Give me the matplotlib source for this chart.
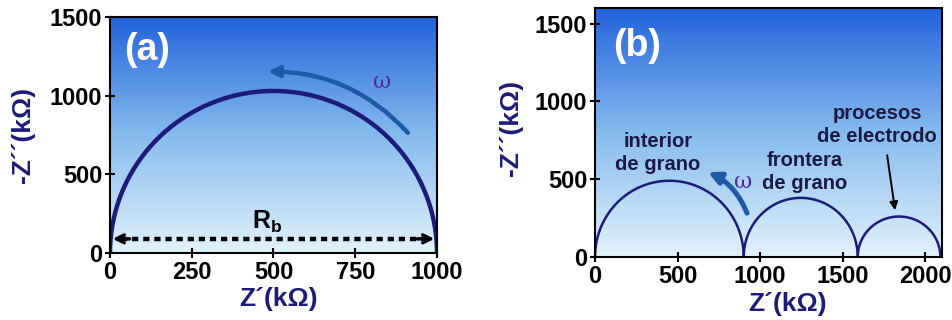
import numpy as np
import matplotlib
matplotlib.use("Agg")
import matplotlib.pyplot as plt
from matplotlib.patches import FancyArrowPatch
from matplotlib.colors import LinearSegmentedColormap

plt.rcParams['font.family'] = ['Liberation Sans', 'DejaVu Sans']
plt.rcParams['font.weight'] = 'bold'
plt.rcParams['mathtext.fontset'] = 'custom'
plt.rcParams['mathtext.bf'] = 'Liberation Sans:bold'
plt.rcParams['mathtext.rm'] = 'Liberation Sans:bold'

# ---- data ----
# panel (a): single semicircle
a_start = [0]
a_end = [1000]
a_peak = [1030]
a_xticks = [0, 250, 500, 750, 1000]
a_yticks = [0, 500, 1000, 1500]

# panel (b): three semicircles
b_start = [0, 900, 1590]
b_end = [900, 1590, 2090]
b_peak = [490, 380, 260]
b_xticks = [0, 500, 1000, 1500, 2000]
b_yticks = [0, 500, 1000, 1500]
b_labels = ["interior\nde grano", "frontera\nde grano", "procesos\nde electrodo"]

W, H = 953, 320
fig = plt.figure(figsize=(W / 100, H / 100), dpi=100)

navy = '#1c1c78'
arrow_blue = '#1f5aa8'
omega_col = '#4b2a9a'
cmap = LinearSegmentedColormap.from_list('bg', ['#e2f2fb', '#86bbee', '#2262dc'])

def px_axes(l, t, r, b):
    return fig.add_axes([l / W, 1 - b / H, (r - l) / W, (b - t) / H])

def style(ax, xlim, ylim, xt, yt):
    ax.set_xlim(*xlim)
    ax.set_ylim(*ylim)
    ax.imshow(np.linspace(0, 1, 256).reshape(-1, 1), cmap=cmap, origin='lower',
              extent=[xlim[0], xlim[1], ylim[0], ylim[1]], aspect='auto', zorder=0)
    ax.set_xticks(xt)
    ax.set_yticks(yt)
    ax.tick_params(direction='inout', length=7, width=1.5, labelsize=17, pad=2)
    for lab in ax.get_xticklabels() + ax.get_yticklabels():
        lab.set_fontweight('bold')
    for s in ax.spines.values():
        s.set_linewidth(1.5)
        s.set_zorder(5)

def semicircle(ax, x0, x1, h, lw):
    t = np.linspace(0, np.pi, 300)
    c = (x0 + x1) / 2
    r = (x1 - x0) / 2
    ax.plot(c - r * np.cos(t), h * np.sin(t), color=navy, lw=lw, zorder=3,
            solid_capstyle='butt')

# ---- panel (a) ----
axa = px_axes(110, 17, 437, 253)
style(axa, (0, 1000), (0, 1500), a_xticks, a_yticks)
for s, e, p in zip(a_start, a_end, a_peak):
    semicircle(axa, s, e, p, 3.2)
axa.set_xlabel('Z´(kΩ)', fontsize=19, fontweight='bold', color=navy)
axa.set_ylabel('-Z´´(kΩ)', fontsize=19, fontweight='bold', color=navy)
axa.xaxis.set_label_coords(0.514, -0.145)
axa.yaxis.set_label_coords(-0.23, 0.5)
axa.text(113, 1293, '(a)', fontsize=27, fontweight='bold', color='white',
         ha='center', va='center', zorder=4)
# R_b dotted arrow
axa.plot([35, 965], [90, 90], color='black', lw=3.2, linestyle=(0, (1.4, 1.1)),
         dash_capstyle='butt', zorder=3)
for x_from, x_to in [(60, 8), (940, 992)]:
    axa.annotate('', xy=(x_to, 90), xytext=(x_from, 90),
                 arrowprops=dict(arrowstyle='->', color='black', lw=2.5,
                                 mutation_scale=14, shrinkA=0, shrinkB=0), zorder=4)
axa.text(480, 200, r'R$_\mathbf{b}$', fontsize=18, fontweight='bold', color='black',
         ha='center', va='center', zorder=4)
axa.add_patch(FancyArrowPatch((911, 764), (483, 1153), connectionstyle='arc3,rad=0.22',
                              arrowstyle='-|>', mutation_scale=16, lw=3.2,
                              color=arrow_blue, zorder=4, shrinkA=0, shrinkB=0))
axa.text(832, 1090, 'ω', fontsize=16, color=omega_col, ha='center', va='center',
         family='DejaVu Serif', fontweight='normal', zorder=4)

# ---- panel (b) ----
axb = px_axes(595, 8, 942, 257)
style(axb, (0, 2100), (0, 1600), b_xticks, b_yticks)
for s, e, p in zip(b_start, b_end, b_peak):
    semicircle(axb, s, e, p, 1.8)
axb.set_xlabel('Z´(kΩ)', fontsize=19, fontweight='bold', color=navy)
axb.set_ylabel('-Z´´(kΩ)', fontsize=19, fontweight='bold', color=navy)
axb.xaxis.set_label_coords(0.556, -0.14)
axb.yaxis.set_label_coords(-0.207, 0.52)
axb.text(254, 1359, '(b)', fontsize=27, fontweight='bold', color='white',
         ha='center', va='center', zorder=4)
label_pos = [(382, 667), (1271, 545), (1707, 846)]
for txt, (x, y) in zip(b_labels, label_pos):
    axb.text(x, y, txt, fontsize=14.5, fontweight='bold', color='#1a1a45',
             ha='center', va='center', linespacing=1.25, zorder=4)
axb.add_patch(FancyArrowPatch((920, 282), (684, 545), connectionstyle='arc3,rad=0.2',
                              arrowstyle='-|>', mutation_scale=18, lw=3.6,
                              color=arrow_blue, zorder=4, shrinkA=0, shrinkB=0))
axb.text(896, 481, 'ω', fontsize=16, color=omega_col, ha='center', va='center',
         family='DejaVu Serif', fontweight='normal', zorder=4)
axb.add_patch(FancyArrowPatch((1768, 654), (1816, 301), connectionstyle='arc3,rad=0.0',
                              arrowstyle='-|>', mutation_scale=12, lw=1.4,
                              color='black', zorder=4, shrinkA=0, shrinkB=0))

fig.savefig('out.png', dpi=100, facecolor='white')
